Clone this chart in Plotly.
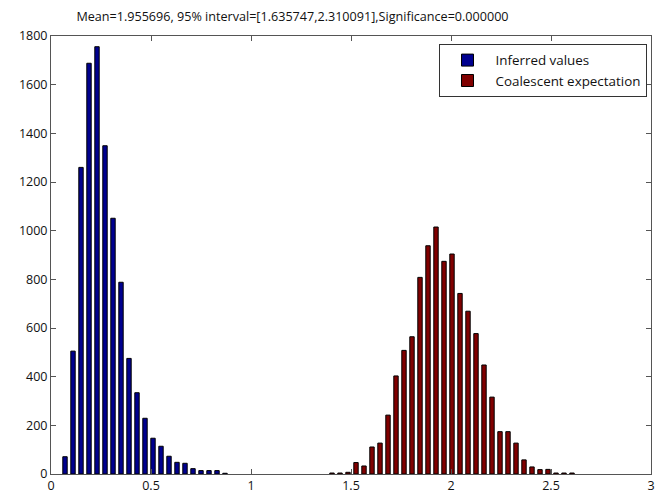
import plotly.graph_objects as go

# Inferred values histogram (bin centres and counts)
inferred_x = [0.07, 0.11, 0.15, 0.19, 0.23, 0.27, 0.31, 0.35, 0.39, 0.43, 0.47,
              0.51, 0.55, 0.59, 0.63, 0.67, 0.71, 0.75, 0.79, 0.83, 0.87]
inferred_y = [71, 505, 1260, 1688, 1756, 1349, 1051, 788, 475, 334, 229,
              147, 114, 73, 48, 44, 22, 14, 14, 14, 3]

# Coalescent expectation histogram
coal_x = [1.405, 1.445, 1.485, 1.525, 1.565, 1.605, 1.645, 1.685, 1.725, 1.765,
          1.805, 1.845, 1.885, 1.925, 1.965, 2.005, 2.045, 2.085, 2.125, 2.165,
          2.205, 2.245, 2.285, 2.325, 2.365, 2.405, 2.445, 2.485, 2.525, 2.565, 2.605]
coal_y = [4, 4, 7, 47, 33, 111, 127, 242, 403, 508,
          564, 808, 938, 1015, 874, 904, 742, 669, 577, 448,
          316, 174, 174, 127, 58, 29, 18, 19, 4, 4, 4]

x_ticks = [0, 0.5, 1, 1.5, 2, 2.5, 3]
x_tick_text = ["0", "0.5", "1", "1.5", "2", "2.5", "3"]
y_ticks = [0, 200, 400, 600, 800, 1000, 1200, 1400, 1600, 1800]

title_text = "Mean=1.955696, 95% interval=[1.635747,2.310091],Significance=0.000000"

fig = go.Figure()
fig.add_trace(go.Bar(x=inferred_x, y=inferred_y, width=0.022, name="Inferred values",
                     marker=dict(color="rgb(0,0,143)", line=dict(color="black", width=1))))
fig.add_trace(go.Bar(x=coal_x, y=coal_y, width=0.022, name="Coalescent expectation",
                     marker=dict(color="rgb(128,0,0)", line=dict(color="black", width=1))))

axis_common = dict(showline=True, linecolor="#555555", linewidth=1, mirror="ticks",
                   ticks="inside", ticklen=5, tickcolor="#555555", showgrid=False,
                   zeroline=False, automargin=False,
                   tickfont=dict(family="Open Sans", size=12.5, color="#111111"))

fig.update_layout(
    width=655, height=496,
    margin=dict(l=51, r=4, t=36, b=22),
    paper_bgcolor="white", plot_bgcolor="white",
    barmode="overlay",
    title=dict(text=title_text, x=0.4466, xanchor="center", y=0.966, yanchor="middle",
               font=dict(family="Open Sans", size=12.6, color="#111111")),
    xaxis=dict(range=[0, 3], tickvals=x_ticks, ticktext=x_tick_text, **axis_common),
    yaxis=dict(range=[0, 1800], tickvals=y_ticks, **axis_common),
    legend=dict(x=0.9925, y=0.982, xanchor="right", yanchor="top",
                bgcolor="white", bordercolor="#333333", borderwidth=1,
                font=dict(family="Open Sans", size=13.4, color="#111111"),
                tracegroupgap=0, itemwidth=46),
    showlegend=True,
)

fig.write_html("out.html", config={"displayModeBar": False},
               post_script="document.body.style.margin='0';document.body.style.overflow='hidden';")
